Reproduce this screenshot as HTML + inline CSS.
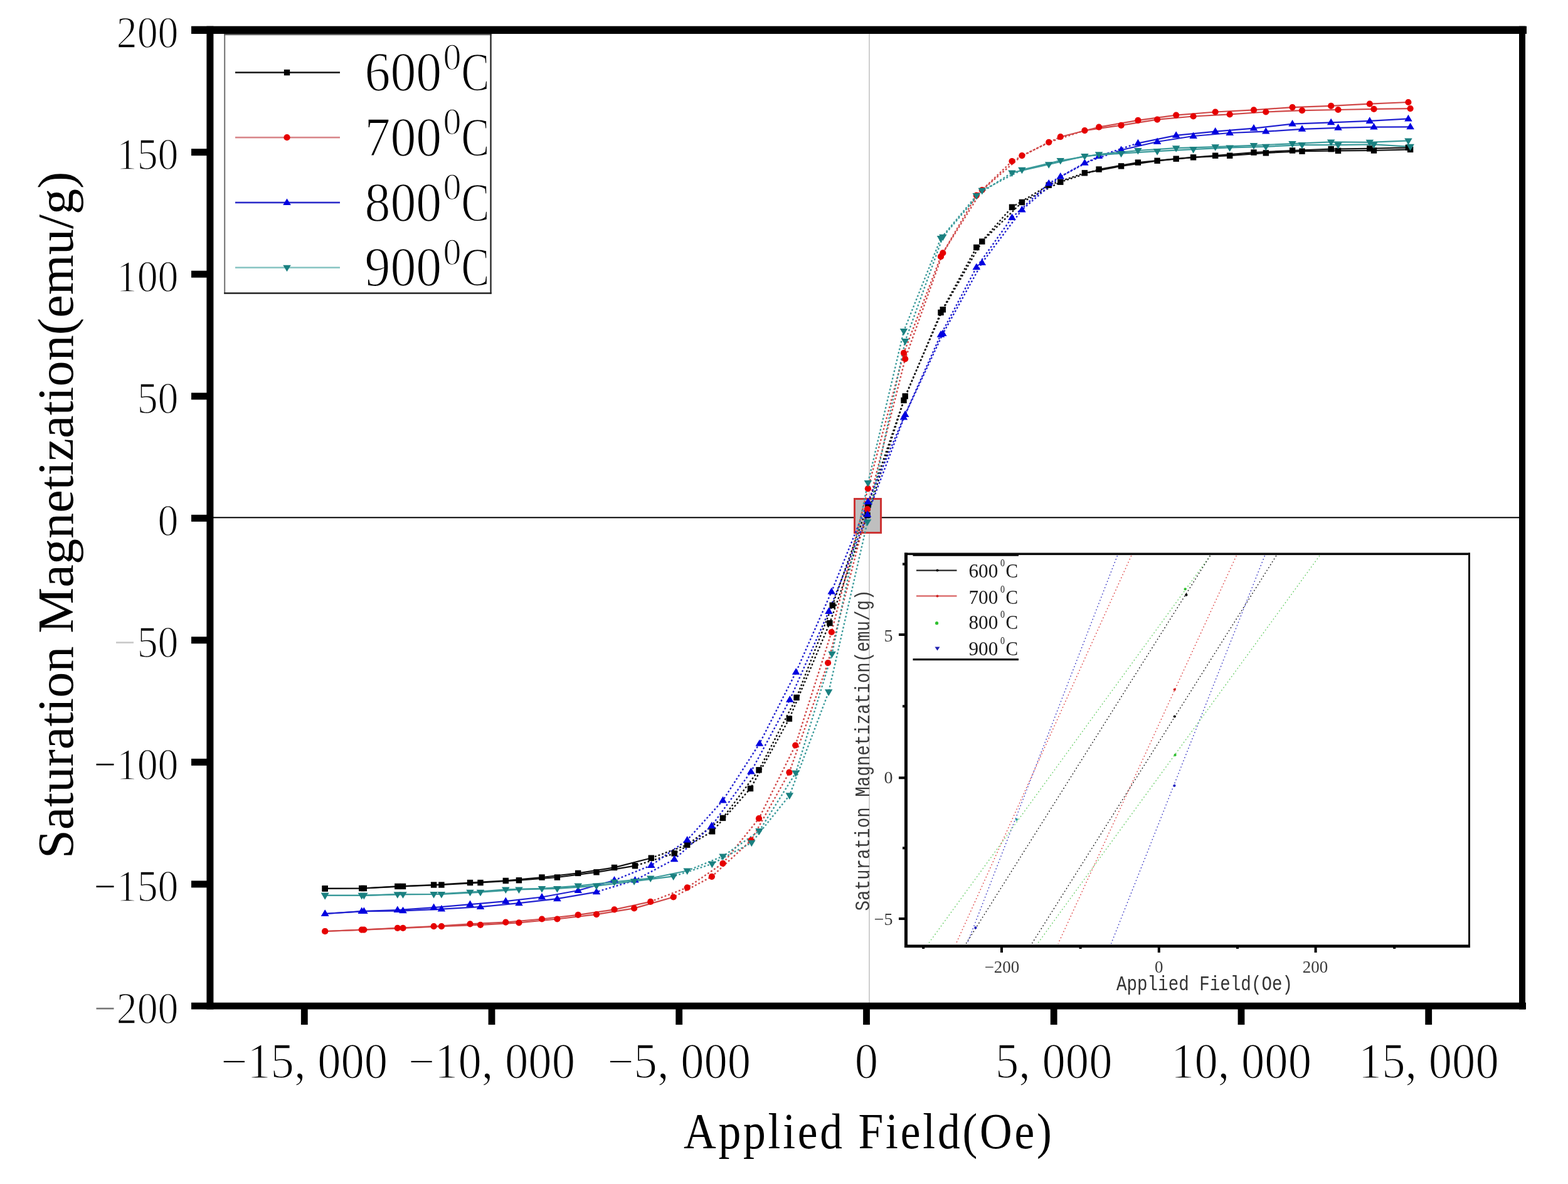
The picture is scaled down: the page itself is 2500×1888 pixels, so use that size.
<!DOCTYPE html><html><head><meta charset="utf-8"><title>M-H loops</title><style>html,body{margin:0;padding:0;background:#fff}svg{display:block}text{font-family:"Liberation Serif",serif}.m{font-family:"Liberation Mono",monospace}.t{stroke:#fff;stroke-width:1.5px}</style></head><body>
<svg width="2500" height="1888" viewBox="0 0 2500 1888">
<rect width="2500" height="1888" fill="#fff"/>
<rect x="1385" y="54" width="2" height="1545" fill="#cfcfcf"/>
<rect x="340" y="824.3" width="2082" height="2" fill="#000"/>
<rect x="1362.5" y="795.5" width="42" height="54" fill="#bfbfbf" stroke="#cc3333" stroke-width="3"/>
<polyline points="518.2,1416.9 576.7,1416.5 633.8,1413.4 691.6,1411.0 749.5,1407.5 806.3,1404.4 864.0,1399.0 921.7,1392.4 979.5,1383.4 1038.3,1368.2" fill="none" stroke="#111111" stroke-width="2.2" stroke-linejoin="round"/>
<polyline points="1038.3,1368.2 1095.7,1347.2 1152.5,1304.4 1210.0,1227.8 1270.0,1112.3 1327.2,965.2 1383.9,804.9 1441.0,638.4 1500.0,498.3 1556.8,394.5 1613.5,330.3 1672.2,295.2 1729.4,275.8" fill="none" stroke="#111111" stroke-width="2.4" stroke-dasharray="2.8 3.2" stroke-dashoffset="0"/>
<polyline points="1729.4,275.8 1787.6,264.9 1845.1,256.3 1902.6,250.9 1960.7,248.2 2018.3,243.9 2076.0,241.2 2133.5,240.4 2190.5,240.0 2248.6,238.4" fill="none" stroke="#111111" stroke-width="2.2" stroke-linejoin="round"/>
<polyline points="518.2,1416.9 580.3,1416.5 642.5,1413.4 703.9,1411.0 766.0,1407.5 827.4,1403.7 888.4,1399.0 951.0,1390.8 1012.5,1380.7" fill="none" stroke="#111111" stroke-width="2.2" stroke-linejoin="round"/>
<polyline points="1012.5,1380.7 1075.2,1360.9 1135.6,1325.8 1196.5,1257.4 1258.4,1146.1 1322.9,993.6 1383.0,821.6 1443.2,631.8 1503.3,493.7 1565.8,385.1 1629.4,322.5 1690.8,290.2 1752.1,270.0" fill="none" stroke="#111111" stroke-width="2.4" stroke-dasharray="2.8 3.2" stroke-dashoffset="3"/>
<polyline points="1752.1,270.0 1814.4,259.1 1875.2,253.2 1937.7,248.2 1999.0,243.1 2060.6,240.0 2122.2,237.7 2183.8,236.9 2245.4,235.3" fill="none" stroke="#111111" stroke-width="2.2" stroke-linejoin="round"/>
<polyline points="518.2,1485.0 576.7,1482.6 633.8,1479.9 691.6,1477.2 749.5,1473.3 806.3,1470.6 864.0,1465.5 921.7,1458.9 979.5,1450.3 1037.2,1437.9" fill="none" stroke="#d04848" stroke-width="2.2" stroke-linejoin="round"/>
<polyline points="1037.2,1437.9 1095.7,1415.3 1152.5,1376.8 1210.0,1305.2 1268.2,1188.5 1325.8,1008.0 1383.9,779.2 1441.0,562.9 1500.0,409.2 1556.8,311.6 1613.5,257.1 1672.2,226.8 1729.4,208.1" fill="none" stroke="#d04848" stroke-width="2.4" stroke-dasharray="2.8 3.2" stroke-dashoffset="0"/>
<polyline points="1729.4,208.1 1787.6,199.9 1845.1,190.6 1902.6,185.5 1960.7,182.4 2018.3,178.5 2076.0,176.2 2133.5,175.0 2190.5,173.9 2248.6,173.1" fill="none" stroke="#d04848" stroke-width="2.2" stroke-linejoin="round"/>
<polyline points="518.2,1485.0 580.3,1482.6 642.5,1479.9 703.9,1477.2 766.0,1474.8 827.4,1471.3 888.4,1465.5 951.0,1458.1 1011.1,1448.4 1073.7,1430.5" fill="none" stroke="#d04848" stroke-width="2.2" stroke-linejoin="round"/>
<polyline points="1073.7,1430.5 1134.9,1397.8 1197.4,1340.2 1258.4,1231.7 1320.1,1057.0 1383.0,811.9 1443.2,572.3 1503.3,403.4 1565.8,303.0 1629.4,248.2 1690.8,218.2" fill="none" stroke="#d04848" stroke-width="2.4" stroke-dasharray="2.8 3.2" stroke-dashoffset="3"/>
<polyline points="1690.8,218.2 1752.1,202.7 1814.4,191.8 1875.2,183.6 1937.7,178.5 1999.0,175.4 2060.6,171.1 2122.2,168.8 2183.8,165.7 2245.4,163.0" fill="none" stroke="#d04848" stroke-width="2.2" stroke-linejoin="round"/>
<polyline points="518.2,1457.0 576.7,1453.1 633.8,1451.1 691.6,1447.2 749.5,1442.2 806.3,1437.1 864.0,1430.5 921.7,1420.0 979.5,1403.7" fill="none" stroke="#2020d0" stroke-width="2.2" stroke-linejoin="round"/>
<polyline points="979.5,1403.7 1038.3,1379.9 1095.7,1339.5 1152.5,1276.4 1210.9,1185.8 1269.1,1071.8 1325.8,943.4 1383.9,800.2 1441.0,665.6 1500.0,533.7 1556.8,426.4 1613.5,347.0 1672.2,292.5 1729.4,259.8 1787.6,239.2" fill="none" stroke="#2020d0" stroke-width="2.4" stroke-dasharray="2.8 3.2" stroke-dashoffset="0"/>
<polyline points="1787.6,239.2 1845.1,226.0 1902.6,217.0 1960.7,212.0 2018.3,209.7 2076.0,205.8 2133.5,203.8 2190.5,202.7 2248.6,202.3" fill="none" stroke="#2020d0" stroke-width="2.2" stroke-linejoin="round"/>
<polyline points="518.2,1457.0 580.3,1453.1 642.5,1452.3 703.9,1449.6 766.0,1446.1 827.4,1440.2 888.4,1433.2 951.0,1422.3" fill="none" stroke="#2020d0" stroke-width="2.2" stroke-linejoin="round"/>
<polyline points="951.0,1422.3 1012.5,1403.7 1075.2,1370.2 1134.7,1316.9 1197.4,1230.5 1259.3,1115.8 1321.5,974.9 1383.0,820.5 1443.2,661.0 1503.3,532.2 1565.8,419.0 1629.4,334.5 1690.8,281.6 1752.1,248.9 1814.4,228.3" fill="none" stroke="#2020d0" stroke-width="2.4" stroke-dasharray="2.8 3.2" stroke-dashoffset="3"/>
<polyline points="1814.4,228.3 1875.2,215.9 1937.7,209.7 1999.0,204.6 2060.6,197.6 2122.2,195.3 2183.8,192.9 2245.4,189.4" fill="none" stroke="#2020d0" stroke-width="2.2" stroke-linejoin="round"/>
<polyline points="518.2,1427.8 576.7,1427.8 633.8,1426.2 691.6,1425.8 749.5,1422.7 806.3,1418.4 864.0,1416.9 921.7,1412.6 979.5,1406.4 1037.2,1400.5 1095.7,1388.5" fill="none" stroke="#3a9a9a" stroke-width="2.2" stroke-linejoin="round"/>
<polyline points="1095.7,1388.5 1152.5,1365.5 1210.5,1325.1 1268.7,1232.5 1326.5,1042.6 1383.9,769.9 1441.0,527.9 1500.0,380.1 1556.8,312.0 1613.5,275.4" fill="none" stroke="#3a9a9a" stroke-width="2.4" stroke-dasharray="2.8 3.2" stroke-dashoffset="0"/>
<polyline points="1613.5,275.4 1672.2,262.2 1729.4,248.9 1787.6,244.7 1845.1,241.2 1902.6,238.1 1960.7,235.3 2018.3,233.8 2076.0,231.1 2133.5,231.1 2190.5,230.3 2248.6,233.8" fill="none" stroke="#3a9a9a" stroke-width="2.2" stroke-linejoin="round"/>
<polyline points="518.2,1427.8 580.3,1427.8 642.5,1426.2 703.9,1425.8 766.0,1422.7 827.4,1418.4 888.4,1416.9 951.0,1412.6 1011.1,1405.2 1073.7,1397.4" fill="none" stroke="#3a9a9a" stroke-width="2.2" stroke-linejoin="round"/>
<polyline points="1073.7,1397.4 1135.3,1377.6 1198.3,1343.7 1258.8,1268.3 1321.2,1103.3 1383.0,832.1 1443.2,543.8 1503.3,377.7 1565.8,303.8 1629.4,270.7" fill="none" stroke="#3a9a9a" stroke-width="2.4" stroke-dasharray="2.8 3.2" stroke-dashoffset="3"/>
<polyline points="1629.4,270.7 1690.8,256.0 1752.1,246.2 1814.4,240.0 1875.2,236.1 1937.7,234.2 1999.0,231.8 2060.6,229.1 2122.2,226.4 2183.8,226.8 2245.4,224.4" fill="none" stroke="#3a9a9a" stroke-width="2.2" stroke-linejoin="round"/>
<rect x="513.5" y="1412.2" width="9.4" height="9.4" fill="#000000"/>
<rect x="572.0" y="1411.8" width="9.4" height="9.4" fill="#000000"/>
<rect x="629.1" y="1408.7" width="9.4" height="9.4" fill="#000000"/>
<rect x="686.9" y="1406.3" width="9.4" height="9.4" fill="#000000"/>
<rect x="744.8" y="1402.8" width="9.4" height="9.4" fill="#000000"/>
<rect x="801.6" y="1399.7" width="9.4" height="9.4" fill="#000000"/>
<rect x="859.3" y="1394.3" width="9.4" height="9.4" fill="#000000"/>
<rect x="917.0" y="1387.7" width="9.4" height="9.4" fill="#000000"/>
<rect x="974.8" y="1378.7" width="9.4" height="9.4" fill="#000000"/>
<rect x="1033.6" y="1363.5" width="9.4" height="9.4" fill="#000000"/>
<rect x="1091.0" y="1342.5" width="9.4" height="9.4" fill="#000000"/>
<rect x="1147.8" y="1299.7" width="9.4" height="9.4" fill="#000000"/>
<rect x="1205.3" y="1223.1" width="9.4" height="9.4" fill="#000000"/>
<rect x="1265.3" y="1107.6" width="9.4" height="9.4" fill="#000000"/>
<rect x="1322.5" y="960.5" width="9.4" height="9.4" fill="#000000"/>
<rect x="1379.2" y="800.2" width="9.4" height="9.4" fill="#000000"/>
<rect x="1436.3" y="633.7" width="9.4" height="9.4" fill="#000000"/>
<rect x="1495.3" y="493.6" width="9.4" height="9.4" fill="#000000"/>
<rect x="1552.1" y="389.8" width="9.4" height="9.4" fill="#000000"/>
<rect x="1608.8" y="325.6" width="9.4" height="9.4" fill="#000000"/>
<rect x="1667.5" y="290.5" width="9.4" height="9.4" fill="#000000"/>
<rect x="1724.7" y="271.1" width="9.4" height="9.4" fill="#000000"/>
<rect x="1782.9" y="260.2" width="9.4" height="9.4" fill="#000000"/>
<rect x="1840.4" y="251.6" width="9.4" height="9.4" fill="#000000"/>
<rect x="1897.9" y="246.2" width="9.4" height="9.4" fill="#000000"/>
<rect x="1956.0" y="243.5" width="9.4" height="9.4" fill="#000000"/>
<rect x="2013.6" y="239.2" width="9.4" height="9.4" fill="#000000"/>
<rect x="2071.3" y="236.5" width="9.4" height="9.4" fill="#000000"/>
<rect x="2128.8" y="235.7" width="9.4" height="9.4" fill="#000000"/>
<rect x="2185.8" y="235.3" width="9.4" height="9.4" fill="#000000"/>
<rect x="2243.9" y="233.7" width="9.4" height="9.4" fill="#000000"/>
<rect x="513.5" y="1412.2" width="9.4" height="9.4" fill="#000000"/>
<rect x="575.6" y="1411.8" width="9.4" height="9.4" fill="#000000"/>
<rect x="637.8" y="1408.7" width="9.4" height="9.4" fill="#000000"/>
<rect x="699.2" y="1406.3" width="9.4" height="9.4" fill="#000000"/>
<rect x="761.3" y="1402.8" width="9.4" height="9.4" fill="#000000"/>
<rect x="822.7" y="1399.0" width="9.4" height="9.4" fill="#000000"/>
<rect x="883.7" y="1394.3" width="9.4" height="9.4" fill="#000000"/>
<rect x="946.3" y="1386.1" width="9.4" height="9.4" fill="#000000"/>
<rect x="1007.8" y="1376.0" width="9.4" height="9.4" fill="#000000"/>
<rect x="1070.5" y="1356.2" width="9.4" height="9.4" fill="#000000"/>
<rect x="1130.9" y="1321.1" width="9.4" height="9.4" fill="#000000"/>
<rect x="1191.8" y="1252.7" width="9.4" height="9.4" fill="#000000"/>
<rect x="1253.7" y="1141.4" width="9.4" height="9.4" fill="#000000"/>
<rect x="1318.2" y="988.9" width="9.4" height="9.4" fill="#000000"/>
<rect x="1378.3" y="816.9" width="9.4" height="9.4" fill="#000000"/>
<rect x="1438.5" y="627.1" width="9.4" height="9.4" fill="#000000"/>
<rect x="1498.6" y="489.0" width="9.4" height="9.4" fill="#000000"/>
<rect x="1561.1" y="380.4" width="9.4" height="9.4" fill="#000000"/>
<rect x="1624.7" y="317.8" width="9.4" height="9.4" fill="#000000"/>
<rect x="1686.1" y="285.5" width="9.4" height="9.4" fill="#000000"/>
<rect x="1747.4" y="265.3" width="9.4" height="9.4" fill="#000000"/>
<rect x="1809.7" y="254.4" width="9.4" height="9.4" fill="#000000"/>
<rect x="1870.5" y="248.5" width="9.4" height="9.4" fill="#000000"/>
<rect x="1933.0" y="243.5" width="9.4" height="9.4" fill="#000000"/>
<rect x="1994.3" y="238.4" width="9.4" height="9.4" fill="#000000"/>
<rect x="2055.9" y="235.3" width="9.4" height="9.4" fill="#000000"/>
<rect x="2117.5" y="233.0" width="9.4" height="9.4" fill="#000000"/>
<rect x="2179.1" y="232.2" width="9.4" height="9.4" fill="#000000"/>
<rect x="2240.7" y="230.6" width="9.4" height="9.4" fill="#000000"/>
<circle cx="518.2" cy="1485.0" r="5.1" fill="#e60000"/>
<circle cx="576.7" cy="1482.6" r="5.1" fill="#e60000"/>
<circle cx="633.8" cy="1479.9" r="5.1" fill="#e60000"/>
<circle cx="691.6" cy="1477.2" r="5.1" fill="#e60000"/>
<circle cx="749.5" cy="1473.3" r="5.1" fill="#e60000"/>
<circle cx="806.3" cy="1470.6" r="5.1" fill="#e60000"/>
<circle cx="864.0" cy="1465.5" r="5.1" fill="#e60000"/>
<circle cx="921.7" cy="1458.9" r="5.1" fill="#e60000"/>
<circle cx="979.5" cy="1450.3" r="5.1" fill="#e60000"/>
<circle cx="1037.2" cy="1437.9" r="5.1" fill="#e60000"/>
<circle cx="1095.7" cy="1415.3" r="5.1" fill="#e60000"/>
<circle cx="1152.5" cy="1376.8" r="5.1" fill="#e60000"/>
<circle cx="1210.0" cy="1305.2" r="5.1" fill="#e60000"/>
<circle cx="1268.2" cy="1188.5" r="5.1" fill="#e60000"/>
<circle cx="1325.8" cy="1008.0" r="5.1" fill="#e60000"/>
<circle cx="1383.9" cy="779.2" r="5.1" fill="#e60000"/>
<circle cx="1441.0" cy="562.9" r="5.1" fill="#e60000"/>
<circle cx="1500.0" cy="409.2" r="5.1" fill="#e60000"/>
<circle cx="1556.8" cy="311.6" r="5.1" fill="#e60000"/>
<circle cx="1613.5" cy="257.1" r="5.1" fill="#e60000"/>
<circle cx="1672.2" cy="226.8" r="5.1" fill="#e60000"/>
<circle cx="1729.4" cy="208.1" r="5.1" fill="#e60000"/>
<circle cx="1787.6" cy="199.9" r="5.1" fill="#e60000"/>
<circle cx="1845.1" cy="190.6" r="5.1" fill="#e60000"/>
<circle cx="1902.6" cy="185.5" r="5.1" fill="#e60000"/>
<circle cx="1960.7" cy="182.4" r="5.1" fill="#e60000"/>
<circle cx="2018.3" cy="178.5" r="5.1" fill="#e60000"/>
<circle cx="2076.0" cy="176.2" r="5.1" fill="#e60000"/>
<circle cx="2133.5" cy="175.0" r="5.1" fill="#e60000"/>
<circle cx="2190.5" cy="173.9" r="5.1" fill="#e60000"/>
<circle cx="2248.6" cy="173.1" r="5.1" fill="#e60000"/>
<circle cx="518.2" cy="1485.0" r="5.1" fill="#e60000"/>
<circle cx="580.3" cy="1482.6" r="5.1" fill="#e60000"/>
<circle cx="642.5" cy="1479.9" r="5.1" fill="#e60000"/>
<circle cx="703.9" cy="1477.2" r="5.1" fill="#e60000"/>
<circle cx="766.0" cy="1474.8" r="5.1" fill="#e60000"/>
<circle cx="827.4" cy="1471.3" r="5.1" fill="#e60000"/>
<circle cx="888.4" cy="1465.5" r="5.1" fill="#e60000"/>
<circle cx="951.0" cy="1458.1" r="5.1" fill="#e60000"/>
<circle cx="1011.1" cy="1448.4" r="5.1" fill="#e60000"/>
<circle cx="1073.7" cy="1430.5" r="5.1" fill="#e60000"/>
<circle cx="1134.9" cy="1397.8" r="5.1" fill="#e60000"/>
<circle cx="1197.4" cy="1340.2" r="5.1" fill="#e60000"/>
<circle cx="1258.4" cy="1231.7" r="5.1" fill="#e60000"/>
<circle cx="1320.1" cy="1057.0" r="5.1" fill="#e60000"/>
<circle cx="1383.0" cy="811.9" r="5.1" fill="#e60000"/>
<circle cx="1443.2" cy="572.3" r="5.1" fill="#e60000"/>
<circle cx="1503.3" cy="403.4" r="5.1" fill="#e60000"/>
<circle cx="1565.8" cy="303.0" r="5.1" fill="#e60000"/>
<circle cx="1629.4" cy="248.2" r="5.1" fill="#e60000"/>
<circle cx="1690.8" cy="218.2" r="5.1" fill="#e60000"/>
<circle cx="1752.1" cy="202.7" r="5.1" fill="#e60000"/>
<circle cx="1814.4" cy="191.8" r="5.1" fill="#e60000"/>
<circle cx="1875.2" cy="183.6" r="5.1" fill="#e60000"/>
<circle cx="1937.7" cy="178.5" r="5.1" fill="#e60000"/>
<circle cx="1999.0" cy="175.4" r="5.1" fill="#e60000"/>
<circle cx="2060.6" cy="171.1" r="5.1" fill="#e60000"/>
<circle cx="2122.2" cy="168.8" r="5.1" fill="#e60000"/>
<circle cx="2183.8" cy="165.7" r="5.1" fill="#e60000"/>
<circle cx="2245.4" cy="163.0" r="5.1" fill="#e60000"/>
<path d="M518.2 1450.4L524.4 1460.9L511.9 1460.9Z" fill="#0000e0"/>
<path d="M576.7 1446.5L583.0 1457.0L570.5 1457.0Z" fill="#0000e0"/>
<path d="M633.8 1444.5L640.1 1455.1L627.5 1455.1Z" fill="#0000e0"/>
<path d="M691.6 1440.6L697.9 1451.2L685.4 1451.2Z" fill="#0000e0"/>
<path d="M749.5 1435.6L755.7 1446.1L743.2 1446.1Z" fill="#0000e0"/>
<path d="M806.3 1430.5L812.6 1441.1L800.0 1441.1Z" fill="#0000e0"/>
<path d="M864.0 1423.9L870.3 1434.5L857.7 1434.5Z" fill="#0000e0"/>
<path d="M921.7 1413.4L928.0 1424.0L915.5 1424.0Z" fill="#0000e0"/>
<path d="M979.5 1397.1L985.8 1407.6L973.2 1407.6Z" fill="#0000e0"/>
<path d="M1038.3 1373.3L1044.6 1383.9L1032.0 1383.9Z" fill="#0000e0"/>
<path d="M1095.7 1332.9L1102.0 1343.4L1089.4 1343.4Z" fill="#0000e0"/>
<path d="M1152.5 1269.8L1158.8 1280.4L1146.3 1280.4Z" fill="#0000e0"/>
<path d="M1210.9 1179.2L1217.2 1189.7L1204.6 1189.7Z" fill="#0000e0"/>
<path d="M1269.1 1065.2L1275.4 1075.8L1262.8 1075.8Z" fill="#0000e0"/>
<path d="M1325.8 936.8L1332.0 947.4L1319.5 947.4Z" fill="#0000e0"/>
<path d="M1383.9 793.6L1390.2 804.2L1377.6 804.2Z" fill="#0000e0"/>
<path d="M1441.0 659.0L1447.2 669.6L1434.7 669.6Z" fill="#0000e0"/>
<path d="M1500.0 527.1L1506.3 537.7L1493.7 537.7Z" fill="#0000e0"/>
<path d="M1556.8 419.8L1563.1 430.3L1550.5 430.3Z" fill="#0000e0"/>
<path d="M1613.5 340.4L1619.8 351.0L1607.2 351.0Z" fill="#0000e0"/>
<path d="M1672.2 285.9L1678.5 296.5L1665.9 296.5Z" fill="#0000e0"/>
<path d="M1729.4 253.2L1735.7 263.8L1723.2 263.8Z" fill="#0000e0"/>
<path d="M1787.6 232.6L1793.8 243.2L1781.3 243.2Z" fill="#0000e0"/>
<path d="M1845.1 219.4L1851.4 230.0L1838.8 230.0Z" fill="#0000e0"/>
<path d="M1902.6 210.4L1908.9 221.0L1896.4 221.0Z" fill="#0000e0"/>
<path d="M1960.7 205.4L1967.0 216.0L1954.4 216.0Z" fill="#0000e0"/>
<path d="M2018.3 203.1L2024.5 213.6L2012.0 213.6Z" fill="#0000e0"/>
<path d="M2076.0 199.2L2082.2 209.7L2069.7 209.7Z" fill="#0000e0"/>
<path d="M2133.5 197.2L2139.8 207.8L2127.2 207.8Z" fill="#0000e0"/>
<path d="M2190.5 196.1L2196.7 206.6L2184.2 206.6Z" fill="#0000e0"/>
<path d="M2248.6 195.7L2254.9 206.2L2242.3 206.2Z" fill="#0000e0"/>
<path d="M518.2 1450.4L524.4 1460.9L511.9 1460.9Z" fill="#0000e0"/>
<path d="M580.3 1446.5L586.6 1457.0L574.0 1457.0Z" fill="#0000e0"/>
<path d="M642.5 1445.7L648.8 1456.2L636.2 1456.2Z" fill="#0000e0"/>
<path d="M703.9 1443.0L710.1 1453.5L697.6 1453.5Z" fill="#0000e0"/>
<path d="M766.0 1439.5L772.3 1450.0L759.7 1450.0Z" fill="#0000e0"/>
<path d="M827.4 1433.6L833.7 1444.2L821.2 1444.2Z" fill="#0000e0"/>
<path d="M888.4 1426.6L894.7 1437.2L882.1 1437.2Z" fill="#0000e0"/>
<path d="M951.0 1415.7L957.3 1426.3L944.7 1426.3Z" fill="#0000e0"/>
<path d="M1012.5 1397.1L1018.8 1407.6L1006.3 1407.6Z" fill="#0000e0"/>
<path d="M1075.2 1363.6L1081.4 1374.2L1068.9 1374.2Z" fill="#0000e0"/>
<path d="M1134.7 1310.3L1140.9 1320.9L1128.4 1320.9Z" fill="#0000e0"/>
<path d="M1197.4 1223.9L1203.7 1234.5L1191.1 1234.5Z" fill="#0000e0"/>
<path d="M1259.3 1109.2L1265.5 1119.7L1253.0 1119.7Z" fill="#0000e0"/>
<path d="M1321.5 968.3L1327.7 978.9L1315.2 978.9Z" fill="#0000e0"/>
<path d="M1383.0 813.9L1389.3 824.4L1376.7 824.4Z" fill="#0000e0"/>
<path d="M1443.2 654.4L1449.5 664.9L1437.0 664.9Z" fill="#0000e0"/>
<path d="M1503.3 525.6L1509.6 536.1L1497.1 536.1Z" fill="#0000e0"/>
<path d="M1565.8 412.4L1572.0 422.9L1559.5 422.9Z" fill="#0000e0"/>
<path d="M1629.4 327.9L1635.7 338.5L1623.1 338.5Z" fill="#0000e0"/>
<path d="M1690.8 275.0L1697.0 285.6L1684.5 285.6Z" fill="#0000e0"/>
<path d="M1752.1 242.3L1758.3 252.9L1745.8 252.9Z" fill="#0000e0"/>
<path d="M1814.4 221.7L1820.7 232.3L1808.2 232.3Z" fill="#0000e0"/>
<path d="M1875.2 209.3L1881.4 219.8L1868.9 219.8Z" fill="#0000e0"/>
<path d="M1937.7 203.1L1944.0 213.6L1931.4 213.6Z" fill="#0000e0"/>
<path d="M1999.0 198.0L2005.3 208.6L1992.7 208.6Z" fill="#0000e0"/>
<path d="M2060.6 191.0L2066.8 201.6L2054.3 201.6Z" fill="#0000e0"/>
<path d="M2122.2 188.7L2128.4 199.2L2115.9 199.2Z" fill="#0000e0"/>
<path d="M2183.8 186.3L2190.1 196.9L2177.6 196.9Z" fill="#0000e0"/>
<path d="M2245.4 182.8L2251.7 193.4L2239.2 193.4Z" fill="#0000e0"/>
<path d="M518.2 1434.4L524.4 1423.8L511.9 1423.8Z" fill="#1a8080"/>
<path d="M576.7 1434.4L583.0 1423.8L570.5 1423.8Z" fill="#1a8080"/>
<path d="M633.8 1432.8L640.1 1422.3L627.5 1422.3Z" fill="#1a8080"/>
<path d="M691.6 1432.4L697.9 1421.9L685.4 1421.9Z" fill="#1a8080"/>
<path d="M749.5 1429.3L755.7 1418.8L743.2 1418.8Z" fill="#1a8080"/>
<path d="M806.3 1425.0L812.6 1414.5L800.0 1414.5Z" fill="#1a8080"/>
<path d="M864.0 1423.5L870.3 1412.9L857.7 1412.9Z" fill="#1a8080"/>
<path d="M921.7 1419.2L928.0 1408.6L915.5 1408.6Z" fill="#1a8080"/>
<path d="M979.5 1413.0L985.8 1402.4L973.2 1402.4Z" fill="#1a8080"/>
<path d="M1037.2 1407.1L1043.5 1396.6L1031.0 1396.6Z" fill="#1a8080"/>
<path d="M1095.7 1395.1L1101.9 1384.5L1089.4 1384.5Z" fill="#1a8080"/>
<path d="M1152.5 1372.1L1158.8 1361.6L1146.3 1361.6Z" fill="#1a8080"/>
<path d="M1210.5 1331.7L1216.8 1321.1L1204.2 1321.1Z" fill="#1a8080"/>
<path d="M1268.7 1239.1L1275.0 1228.5L1262.4 1228.5Z" fill="#1a8080"/>
<path d="M1326.5 1049.2L1332.8 1038.7L1320.3 1038.7Z" fill="#1a8080"/>
<path d="M1383.9 776.5L1390.2 765.9L1377.6 765.9Z" fill="#1a8080"/>
<path d="M1441.0 534.5L1447.2 523.9L1434.7 523.9Z" fill="#1a8080"/>
<path d="M1500.0 386.7L1506.3 376.1L1493.7 376.1Z" fill="#1a8080"/>
<path d="M1556.8 318.6L1563.1 308.0L1550.5 308.0Z" fill="#1a8080"/>
<path d="M1613.5 282.0L1619.8 271.4L1607.2 271.4Z" fill="#1a8080"/>
<path d="M1672.2 268.8L1678.5 258.2L1665.9 258.2Z" fill="#1a8080"/>
<path d="M1729.4 255.5L1735.7 245.0L1723.2 245.0Z" fill="#1a8080"/>
<path d="M1787.6 251.3L1793.8 240.7L1781.3 240.7Z" fill="#1a8080"/>
<path d="M1845.1 247.8L1851.4 237.2L1838.8 237.2Z" fill="#1a8080"/>
<path d="M1902.6 244.7L1908.9 234.1L1896.4 234.1Z" fill="#1a8080"/>
<path d="M1960.7 241.9L1967.0 231.4L1954.4 231.4Z" fill="#1a8080"/>
<path d="M2018.3 240.4L2024.5 229.8L2012.0 229.8Z" fill="#1a8080"/>
<path d="M2076.0 237.7L2082.2 227.1L2069.7 227.1Z" fill="#1a8080"/>
<path d="M2133.5 237.7L2139.8 227.1L2127.2 227.1Z" fill="#1a8080"/>
<path d="M2190.5 236.9L2196.7 226.3L2184.2 226.3Z" fill="#1a8080"/>
<path d="M2248.6 240.4L2254.9 229.8L2242.3 229.8Z" fill="#1a8080"/>
<path d="M518.2 1434.4L524.4 1423.8L511.9 1423.8Z" fill="#1a8080"/>
<path d="M580.3 1434.4L586.6 1423.8L574.0 1423.8Z" fill="#1a8080"/>
<path d="M642.5 1432.8L648.8 1422.3L636.2 1422.3Z" fill="#1a8080"/>
<path d="M703.9 1432.4L710.1 1421.9L697.6 1421.9Z" fill="#1a8080"/>
<path d="M766.0 1429.3L772.3 1418.8L759.7 1418.8Z" fill="#1a8080"/>
<path d="M827.4 1425.0L833.7 1414.5L821.2 1414.5Z" fill="#1a8080"/>
<path d="M888.4 1423.5L894.7 1412.9L882.1 1412.9Z" fill="#1a8080"/>
<path d="M951.0 1419.2L957.3 1408.6L944.7 1408.6Z" fill="#1a8080"/>
<path d="M1011.1 1411.8L1017.4 1401.2L1004.8 1401.2Z" fill="#1a8080"/>
<path d="M1073.7 1404.0L1080.0 1393.5L1067.5 1393.5Z" fill="#1a8080"/>
<path d="M1135.3 1384.2L1141.6 1373.6L1129.1 1373.6Z" fill="#1a8080"/>
<path d="M1198.3 1350.3L1204.6 1339.8L1192.0 1339.8Z" fill="#1a8080"/>
<path d="M1258.8 1274.9L1265.1 1264.3L1252.6 1264.3Z" fill="#1a8080"/>
<path d="M1321.2 1109.9L1327.4 1099.3L1314.9 1099.3Z" fill="#1a8080"/>
<path d="M1383.0 838.7L1389.3 828.2L1376.7 828.2Z" fill="#1a8080"/>
<path d="M1443.2 550.4L1449.5 539.9L1437.0 539.9Z" fill="#1a8080"/>
<path d="M1503.3 384.3L1509.6 373.8L1497.1 373.8Z" fill="#1a8080"/>
<path d="M1565.8 310.4L1572.0 299.8L1559.5 299.8Z" fill="#1a8080"/>
<path d="M1629.4 277.3L1635.7 266.8L1623.1 266.8Z" fill="#1a8080"/>
<path d="M1690.8 262.6L1697.0 252.0L1684.5 252.0Z" fill="#1a8080"/>
<path d="M1752.1 252.8L1758.3 242.3L1745.8 242.3Z" fill="#1a8080"/>
<path d="M1814.4 246.6L1820.7 236.0L1808.2 236.0Z" fill="#1a8080"/>
<path d="M1875.2 242.7L1881.4 232.2L1868.9 232.2Z" fill="#1a8080"/>
<path d="M1937.7 240.8L1944.0 230.2L1931.4 230.2Z" fill="#1a8080"/>
<path d="M1999.0 238.4L2005.3 227.9L1992.7 227.9Z" fill="#1a8080"/>
<path d="M2060.6 235.7L2066.8 225.1L2054.3 225.1Z" fill="#1a8080"/>
<path d="M2122.2 233.0L2128.4 222.4L2115.9 222.4Z" fill="#1a8080"/>
<path d="M2183.8 233.4L2190.1 222.8L2177.6 222.8Z" fill="#1a8080"/>
<path d="M2245.4 231.0L2251.7 220.5L2239.2 220.5Z" fill="#1a8080"/>
<rect x="357.2" y="54" width="2" height="414.5" fill="#707070"/>
<rect x="357.2" y="54" width="426.5" height="2.2" fill="#606060"/>
<rect x="781.3" y="54" width="2.4" height="414.5" fill="#2a2a2a"/>
<rect x="357.2" y="466.3" width="426.5" height="2.5" fill="#222"/>
<rect x="375" y="114.3" width="167" height="2.6" fill="#1a1a1a"/>
<rect x="452.8" y="110.9" width="9.4" height="9.4" fill="#000000"/>
<text class="t" transform="translate(581.5,144.1) scale(0.93,1)" font-size="88">600</text>
<text class="t" transform="translate(706.5,110.6) scale(0.95,1)" font-size="61">0</text>
<text class="t" transform="translate(735.5,144.1) scale(0.78,1)" font-size="86">C</text>
<rect x="375" y="217.9" width="167" height="2.6" fill="#d8868a"/>
<circle cx="457.5" cy="219.2" r="5.1" fill="#e60000"/>
<text class="t" transform="translate(581.5,247.7) scale(0.93,1)" font-size="88">700</text>
<text class="t" transform="translate(706.5,214.2) scale(0.95,1)" font-size="61">0</text>
<text class="t" transform="translate(735.5,247.7) scale(0.78,1)" font-size="86">C</text>
<rect x="375" y="321.7" width="167" height="2.6" fill="#2a2ac8"/>
<path d="M457.5 316.4L463.8 327.0L451.2 327.0Z" fill="#0000e0"/>
<text class="t" transform="translate(581.5,351.5) scale(0.93,1)" font-size="88">800</text>
<text class="t" transform="translate(706.5,318.0) scale(0.95,1)" font-size="61">0</text>
<text class="t" transform="translate(735.5,351.5) scale(0.78,1)" font-size="86">C</text>
<rect x="375" y="425.4" width="167" height="2.6" fill="#8ac6c4"/>
<path d="M457.5 433.3L463.8 422.7L451.2 422.7Z" fill="#1a8080"/>
<text class="t" transform="translate(581.5,455.2) scale(0.93,1)" font-size="88">900</text>
<text class="t" transform="translate(706.5,421.7) scale(0.95,1)" font-size="61">0</text>
<text class="t" transform="translate(735.5,455.2) scale(0.78,1)" font-size="86">C</text>
<rect x="1444.5" y="883.5" width="896.5" height="624.5" fill="#fff"/>
<defs><clipPath id="ic"><rect x="1446" y="885" width="894" height="621"/></clipPath></defs>
<g clip-path="url(#ic)">
<line x1="1781.5" y1="886" x2="1541.9" y2="1505" stroke="#4848c8" stroke-width="1.5" stroke-dasharray="1.8 3.6"/>
<line x1="1803.8" y1="886" x2="1524.2" y2="1505" stroke="#e05050" stroke-width="1.5" stroke-dasharray="1.8 3.6"/>
<line x1="1929.5" y1="886" x2="1480" y2="1505" stroke="#70d070" stroke-width="1.5" stroke-dasharray="1.8 3.6"/>
<line x1="1929.5" y1="886" x2="1540" y2="1505" stroke="#202020" stroke-width="1.5" stroke-dasharray="1.8 3.6"/>
<line x1="1971.3" y1="886" x2="1687" y2="1505" stroke="#e05050" stroke-width="1.5" stroke-dasharray="1.8 3.6"/>
<line x1="2016.5" y1="886" x2="1771.5" y2="1505" stroke="#4848c8" stroke-width="1.5" stroke-dasharray="1.8 3.6"/>
<line x1="2034.9" y1="886" x2="1645" y2="1505" stroke="#202020" stroke-width="1.5" stroke-dasharray="1.8 3.6"/>
<line x1="2104" y1="886" x2="1654" y2="1505" stroke="#70d070" stroke-width="1.5" stroke-dasharray="1.8 3.6"/>
<circle cx="1889.7" cy="939.3" r="2.1" fill="#30c030"/>
<circle cx="1891.4" cy="948.7" r="2.1" fill="#000"/>
<circle cx="1872.8" cy="1099.6" r="2.1" fill="#d02020"/>
<circle cx="1872.8" cy="1142.5" r="2.1" fill="#000"/>
<circle cx="1873.6" cy="1203.9" r="2.1" fill="#30c030"/>
<circle cx="1872.5" cy="1252.8" r="2.1" fill="#2020c0"/>
<circle cx="1555.4" cy="1479.4" r="2.1" fill="#2020c0"/>
<circle cx="1620.9" cy="1306.8" r="2.1" fill="#30a0a0"/>
</g>
<rect x="1455.5" y="882.3" width="168.5" height="4.4" fill="#000"/>
<rect x="1455.5" y="1050" width="168.5" height="3.2" fill="#111"/>
<rect x="1461" y="908.5" width="64.5" height="2.2" fill="#222"/>
<rect x="1461" y="949.3" width="64.5" height="2.2" fill="#d86060"/>
<circle cx="1494.5" cy="909.6" r="2" fill="#000"/>
<circle cx="1494.5" cy="950.4" r="2" fill="#d02020"/>
<circle cx="1493.6" cy="993.7" r="2.6" fill="#30c030"/>
<path d="M1490.5 1031.5L1498.5 1031.5L1494.5 1037.5Z" fill="#2020b0"/>
<text transform="translate(1544.5,921) scale(0.96,1)" font-size="32.5" fill="#1a1a1a">600</text>
<text transform="translate(1595,903) scale(0.85,1)" font-size="16.5" fill="#1a1a1a">0</text>
<text transform="translate(1603.5,921) scale(0.95,1)" font-size="31" fill="#1a1a1a">C</text>
<text transform="translate(1544.5,962.5) scale(0.96,1)" font-size="32.5" fill="#1a1a1a">700</text>
<text transform="translate(1595,944.5) scale(0.85,1)" font-size="16.5" fill="#1a1a1a">0</text>
<text transform="translate(1603.5,962.5) scale(0.95,1)" font-size="31" fill="#1a1a1a">C</text>
<text transform="translate(1544.5,1003) scale(0.96,1)" font-size="32.5" fill="#1a1a1a">800</text>
<text transform="translate(1595,985) scale(0.85,1)" font-size="16.5" fill="#1a1a1a">0</text>
<text transform="translate(1603.5,1003) scale(0.95,1)" font-size="31" fill="#1a1a1a">C</text>
<text transform="translate(1544.5,1044.7) scale(0.96,1)" font-size="32.5" fill="#1a1a1a">900</text>
<text transform="translate(1595,1026.7) scale(0.85,1)" font-size="16.5" fill="#1a1a1a">0</text>
<text transform="translate(1603.5,1044.7) scale(0.95,1)" font-size="31" fill="#1a1a1a">C</text>
<rect x="1442" y="881.5" width="902" height="3.6" fill="#0a0a0a"/>
<rect x="2341" y="881.5" width="3" height="629.5" fill="#111"/>
<rect x="1442" y="1506.4" width="902" height="4.7" fill="#000"/>
<rect x="1442" y="881.5" width="5" height="629.5" fill="#000"/>
<rect x="1470.2" y="1508" width="4" height="5" fill="#000"/>
<rect x="1595" y="1508" width="4" height="11" fill="#000"/>
<rect x="1720.6" y="1508" width="4" height="5" fill="#000"/>
<rect x="1845.8" y="1508" width="4" height="11" fill="#000"/>
<rect x="1971" y="1508" width="4" height="5" fill="#000"/>
<rect x="2095.6" y="1508" width="4" height="11" fill="#000"/>
<rect x="2221.2" y="1508" width="4" height="5" fill="#000"/>
<rect x="1439" y="897.5" width="4" height="4" fill="#000"/>
<rect x="1433" y="1010" width="10" height="4" fill="#000"/>
<rect x="1439" y="1124.2" width="4" height="4" fill="#000"/>
<rect x="1433" y="1238.3" width="10" height="4" fill="#000"/>
<rect x="1439" y="1350.3" width="4" height="4" fill="#000"/>
<rect x="1433" y="1463" width="10" height="4" fill="#000"/>
<text transform="translate(1597.5,1551)" font-size="27" fill="#3a3a3a" text-anchor="middle">−200</text>
<text transform="translate(1847.8,1551)" font-size="27" fill="#3a3a3a" text-anchor="middle">0</text>
<text transform="translate(2097,1551)" font-size="27" fill="#3a3a3a" text-anchor="middle">200</text>
<text x="1423.5" y="1022.5" font-size="28" fill="#3a3a3a" text-anchor="end">5</text>
<text x="1423.5" y="1249" font-size="28" fill="#3a3a3a" text-anchor="end">0</text>
<text x="1423.5" y="1474.5" font-size="28" fill="#3a3a3a" text-anchor="end">−5</text>
<text class="m" x="1780" y="1579" font-size="33" fill="#333" textLength="281" lengthAdjust="spacingAndGlyphs">Applied Field(Oe)</text>
<text class="m" transform="translate(1386,1452.5) rotate(-90)" x="0" y="0" font-size="33" fill="#3a3a3a" textLength="512" lengthAdjust="spacingAndGlyphs">Saturation Magnetization(emu/g)</text>
<rect x="305" y="41.7" width="2129" height="12.3" fill="#000"/>
<rect x="305" y="1598.7" width="2128" height="10.8" fill="#000"/>
<rect x="329.4" y="41.7" width="11" height="1567.8" fill="#000"/>
<rect x="2422" y="41.7" width="10" height="1567.8" fill="#000"/>
<rect x="305" y="237.2" width="26" height="11" fill="#000"/>
<rect x="305" y="431.7" width="26" height="11" fill="#000"/>
<rect x="305" y="626.3" width="26" height="11" fill="#000"/>
<rect x="305" y="820.8" width="26" height="11" fill="#000"/>
<rect x="305" y="1015.3" width="26" height="11" fill="#000"/>
<rect x="305" y="1209.8" width="26" height="11" fill="#000"/>
<rect x="305" y="1404.4" width="26" height="11" fill="#000"/>
<rect x="479.9" y="1608" width="10.8" height="26" fill="#000"/>
<rect x="778.6" y="1608" width="10.8" height="26" fill="#000"/>
<rect x="1077.3" y="1608" width="10.8" height="26" fill="#000"/>
<rect x="1376.1" y="1608" width="10.8" height="26" fill="#000"/>
<rect x="1674.8" y="1608" width="10.8" height="26" fill="#000"/>
<rect x="1973.6" y="1608" width="10.8" height="26" fill="#000"/>
<rect x="2272.3" y="1608" width="10.8" height="26" fill="#000"/>
<text class="t" transform="translate(284.5,75.7) scale(0.92,1)" font-size="71.6" text-anchor="end">200</text>
<text class="t" transform="translate(284.5,270.2) scale(0.92,1)" font-size="71.6" text-anchor="end">150</text>
<text class="t" transform="translate(284.5,464.7) scale(0.92,1)" font-size="71.6" text-anchor="end">100</text>
<text class="t" transform="translate(284.5,659.3) scale(0.92,1)" font-size="71.6" text-anchor="end">50</text>
<text class="t" transform="translate(284.5,853.8) scale(0.92,1)" font-size="71.6" text-anchor="end">0</text>
<text class="t" transform="translate(284.5,1048.3) scale(0.92,1)" font-size="71.6" text-anchor="end">50</text>
<rect x="185.0" y="1023.3" width="28" height="2.6" fill="#c8c8c8"/>
<text class="t" transform="translate(284.5,1242.8) scale(0.92,1)" font-size="71.6" text-anchor="end">100</text>
<rect x="153.5" y="1217.8" width="28" height="2.6" fill="#000"/>
<text class="t" transform="translate(284.5,1437.4) scale(0.92,1)" font-size="71.6" text-anchor="end">150</text>
<rect x="153.5" y="1412.4" width="28" height="2.6" fill="#000"/>
<text class="t" transform="translate(284.5,1631.9) scale(0.92,1)" font-size="71.6" text-anchor="end">200</text>
<rect x="153.5" y="1606.9" width="28" height="2.6" fill="#777"/>
<text class="t" transform="translate(485.2,1718.5) scale(0.94,1)" font-size="79.4" text-anchor="middle" xml:space="preserve">−15, 000</text>
<text class="t" transform="translate(784.0,1718.5) scale(0.94,1)" font-size="79.4" text-anchor="middle" xml:space="preserve">−10, 000</text>
<text class="t" transform="translate(1082.8,1718.5) scale(0.94,1)" font-size="79.4" text-anchor="middle" xml:space="preserve">−5, 000</text>
<text class="t" transform="translate(1381.5,1718.5) scale(0.94,1)" font-size="79.4" text-anchor="middle" xml:space="preserve">0</text>
<text class="t" transform="translate(1680.2,1718.5) scale(0.94,1)" font-size="79.4" text-anchor="middle" xml:space="preserve">5, 000</text>
<text class="t" transform="translate(1979.0,1718.5) scale(0.94,1)" font-size="79.4" text-anchor="middle" xml:space="preserve">10, 000</text>
<text class="t" transform="translate(2277.8,1718.5) scale(0.94,1)" font-size="79.4" text-anchor="middle" xml:space="preserve">15, 000</text>
<text transform="translate(1090,1830.5) scale(0.9,1)" font-size="79.5" textLength="652" lengthAdjust="spacing">Applied Field(Oe)</text>
<text transform="translate(116,1369) rotate(-90)" x="0" y="0" font-size="80" textLength="1095.5" lengthAdjust="spacingAndGlyphs">Saturation Magnetization(emu/g)</text>
</svg></body></html>
